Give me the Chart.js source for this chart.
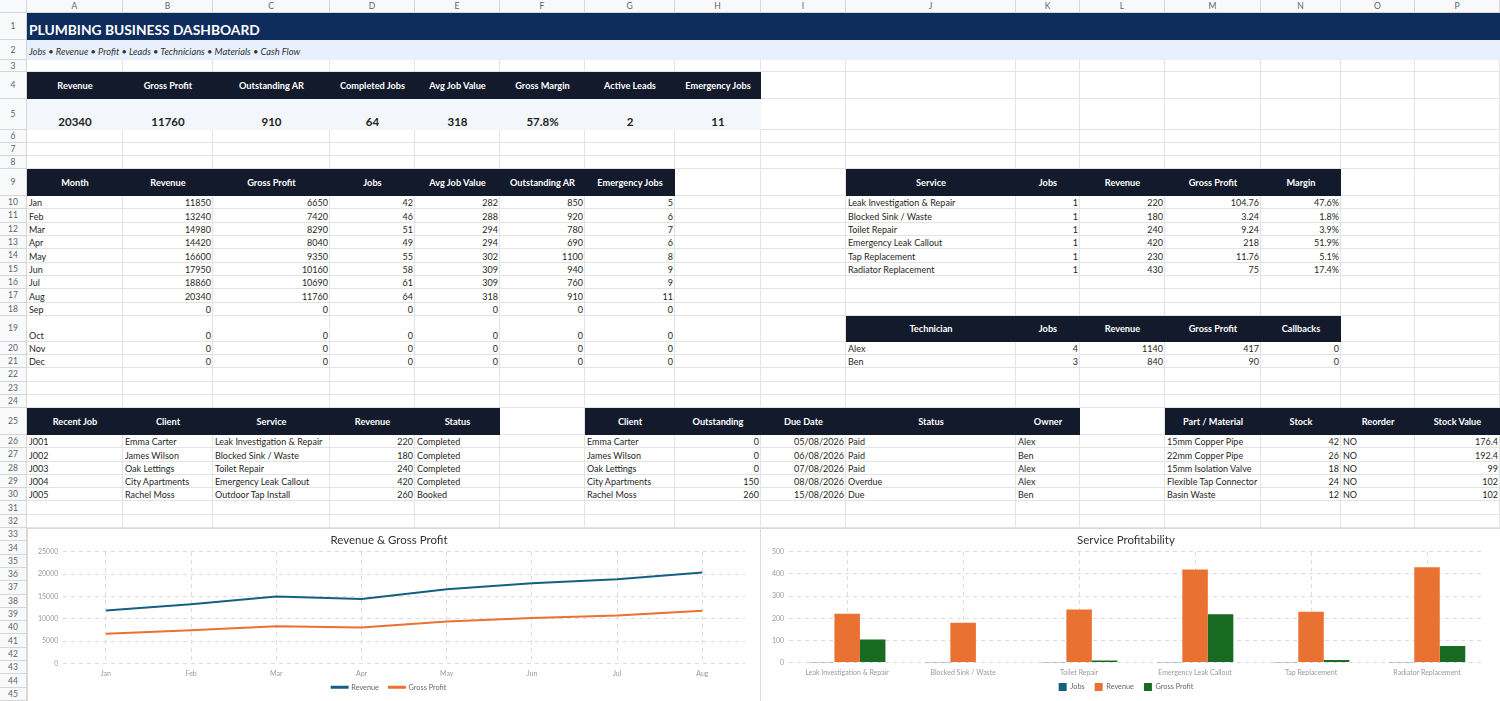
<!DOCTYPE html>
<html>
<head>
<meta charset="utf-8">
<script src="https://cdn.jsdelivr.net/npm/chart.js@4.4.1/dist/chart.umd.min.js"></script>
<style>
  html, body { margin: 0; padding: 0; background: #fff; overflow: hidden; }
  #sheet { position: relative; width: 1500px; height: 701px; font-family: Lato, sans-serif; color: #1f1f1f; overflow: hidden; }
  .c { position: absolute; box-sizing: border-box; border-right: 1px solid #e3e3e3; border-bottom: 1px solid #e3e3e3; }
  .hdr { position: absolute; box-sizing: border-box; background: #f8f9fa; color: #5f6368; font-size: 8.5px;
         display: flex; align-items: center; justify-content: center; border-right: 1px solid #d6d6d6; border-bottom: 1px solid #d6d6d6; }
  .t { position: absolute; box-sizing: border-box; display: flex; align-items: flex-end; padding: 0 2px 1px 2px;
       font-size: 9px; white-space: nowrap; overflow: hidden; }
  .r { justify-content: flex-end; }
  .hd { background: #121a2c; color: #fff; font-weight: bold; font-size: 9.2px; justify-content: center; align-items: center; padding: 0; }
  .kv { background: #f3f6fa; font-weight: bold; font-size: 11.5px; justify-content: center; padding-bottom: 2px; }
  .ttl { background: #0e2c5c; color: #fff; font-weight: bold; font-size: 13.8px; padding-bottom: 2px; }
  .sub { background: #e8f0fd; font-style: italic; font-size: 9.3px; color: #333; padding-bottom: 3px; }
  .box { position: absolute; box-sizing: border-box; background: #fff; border: 1px solid #dadada; }
</style>
</head>
<body>
<div id="sheet">
  <div class="box" style="left:27px;top:528px;width:734px;height:174px;"><canvas id="lineChart"></canvas></div>
  <div class="box" style="left:760px;top:528px;width:741px;height:174px;"><canvas id="barChart"></canvas></div>
</div>
<script>
// ---- data ----
const kpiLabels = ['Revenue', 'Gross Profit', 'Outstanding AR', 'Completed Jobs', 'Avg Job Value', 'Gross Margin', 'Active Leads', 'Emergency Jobs'];
const kpiValues = ['20340', '11760', '910', '64', '318', '57.8%', '2', '11'];

const months = ['Jan', 'Feb', 'Mar', 'Apr', 'May', 'Jun', 'Jul', 'Aug', 'Sep', 'Oct', 'Nov', 'Dec'];
const monthRevenue = [11850, 13240, 14980, 14420, 16600, 17950, 18860, 20340, 0, 0, 0, 0];
const monthGrossProfit = [6650, 7420, 8290, 8040, 9350, 10160, 10690, 11760, 0, 0, 0, 0];
const monthJobs = [42, 46, 51, 49, 55, 58, 61, 64, 0, 0, 0, 0];
const monthAvgJob = [282, 288, 294, 294, 302, 309, 309, 318, 0, 0, 0, 0];
const monthAR = [850, 920, 780, 690, 1100, 940, 760, 910, 0, 0, 0, 0];
const monthEmergency = [5, 6, 7, 6, 8, 9, 9, 11, 0, 0, 0, 0];

const services = ['Leak Investigation & Repair', 'Blocked Sink / Waste', 'Toilet Repair', 'Emergency Leak Callout', 'Tap Replacement', 'Radiator Replacement'];
const serviceJobs = [1, 1, 1, 1, 1, 1];
const serviceRevenue = [220, 180, 240, 420, 230, 430];
const serviceGrossProfit = [104.76, 3.24, 9.24, 218, 11.76, 75];
const serviceMargin = ['47.6%', '1.8%', '3.9%', '51.9%', '5.1%', '17.4%'];

const technicians = ['Alex', 'Ben'];
const techJobs = [4, 3];
const techRevenue = [1140, 840];
const techGrossProfit = [417, 90];
const techCallbacks = [0, 0];

const jobIds = ['J001', 'J002', 'J003', 'J004', 'J005'];
const jobClients = ['Emma Carter', 'James Wilson', 'Oak Lettings', 'City Apartments', 'Rachel Moss'];
const jobServices = ['Leak Investigation & Repair', 'Blocked Sink / Waste', 'Toilet Repair', 'Emergency Leak Callout', 'Outdoor Tap Install'];
const jobRevenue = [220, 180, 240, 420, 260];
const jobStatus = ['Completed', 'Completed', 'Completed', 'Completed', 'Booked'];

const arClients = ['Emma Carter', 'James Wilson', 'Oak Lettings', 'City Apartments', 'Rachel Moss'];
const arOutstanding = [0, 0, 0, 150, 260];
const arDueDates = ['05/08/2026', '06/08/2026', '07/08/2026', '08/08/2026', '15/08/2026'];
const arStatus = ['Paid', 'Paid', 'Paid', 'Overdue', 'Due'];
const arOwner = ['Alex', 'Ben', 'Alex', 'Alex', 'Ben'];

const parts = ['15mm Copper Pipe', '22mm Copper Pipe', '15mm Isolation Valve', 'Flexible Tap Connector', 'Basin Waste'];
const partStock = [42, 26, 18, 24, 12];
const partReorder = ['NO', 'NO', 'NO', 'NO', 'NO'];
const partValue = ['176.4', '192.4', '99', '102', '102'];

const chartMonths = months.slice(0, 8);

// ---- sheet layout ----
const sheet = document.getElementById('sheet');
const colX = [27, 123, 213, 330, 415, 500, 585, 675, 761, 846, 1016, 1080, 1165, 1261, 1341, 1415, 1500];
const letters = 'ABCDEFGHIJKLMNOP'.split('');
const rowH = [0, 27, 20, 12, 27, 31, 13, 13, 13, 27];
for (let i = 10; i <= 18; i++) rowH[i] = 13.33;
rowH[19] = 26;
for (let i = 20; i <= 24; i++) rowH[i] = 13.2;
rowH[25] = 27;
for (let i = 26; i <= 45; i++) rowH[i] = 13.3;
const rowY = [0, 13];
for (let i = 2; i <= 46; i++) rowY[i] = rowY[i - 1] + rowH[i - 1];

function div(cls, l, t, w, h, text) {
  const d = document.createElement('div');
  d.className = cls;
  d.style.left = l + 'px'; d.style.top = t + 'px';
  d.style.width = w + 'px'; d.style.height = h + 'px';
  if (text !== undefined) d.textContent = text;
  sheet.insertBefore(d, sheet.firstChild);
  return d;
}

function cell(r, c1, c2, text, cls) {
  return div('t ' + (cls || ''), colX[c1], rowY[r], colX[c2 + 1] - colX[c1], rowH[r], text);
}

const content = [];
function put(r, c, text, cls) { content.push([r, c, c, text, cls]); }
function span(r, c1, c2, text, cls) { content.push([r, c1, c2, text, cls]); }

span(1, 0, 15, 'PLUMBING BUSINESS DASHBOARD', 'ttl');
span(2, 0, 15, 'Jobs \u2022 Revenue \u2022 Profit \u2022 Leads \u2022 Technicians \u2022 Materials \u2022 Cash Flow', 'sub');
kpiLabels.forEach((k, i) => { put(4, i, k, 'hd'); put(5, i, kpiValues[i], 'kv'); });

['Month', 'Revenue', 'Gross Profit', 'Jobs', 'Avg Job Value', 'Outstanding AR', 'Emergency Jobs'].forEach((h, i) => put(9, i, h, 'hd'));
months.forEach((m, i) => {
  const r = 10 + i;
  put(r, 0, m, '');
  [monthRevenue, monthGrossProfit, monthJobs, monthAvgJob, monthAR, monthEmergency].forEach((arr, j) => put(r, j + 1, String(arr[i]), 'r'));
});

['Service', 'Jobs', 'Revenue', 'Gross Profit', 'Margin'].forEach((h, i) => put(9, 9 + i, h, 'hd'));
services.forEach((s, i) => {
  const r = 10 + i;
  put(r, 9, s, '');
  put(r, 10, String(serviceJobs[i]), 'r');
  put(r, 11, String(serviceRevenue[i]), 'r');
  put(r, 12, String(serviceGrossProfit[i]), 'r');
  put(r, 13, serviceMargin[i], 'r');
});

['Technician', 'Jobs', 'Revenue', 'Gross Profit', 'Callbacks'].forEach((h, i) => put(19, 9 + i, h, 'hd'));
technicians.forEach((t, i) => {
  const r = 20 + i;
  put(r, 9, t, '');
  put(r, 10, String(techJobs[i]), 'r');
  put(r, 11, String(techRevenue[i]), 'r');
  put(r, 12, String(techGrossProfit[i]), 'r');
  put(r, 13, String(techCallbacks[i]), 'r');
});

['Recent Job', 'Client', 'Service', 'Revenue', 'Status'].forEach((h, i) => put(25, i, h, 'hd'));
['Client', 'Outstanding', 'Due Date', 'Status', 'Owner'].forEach((h, i) => put(25, 6 + i, h, 'hd'));
['Part / Material', 'Stock', 'Reorder', 'Stock Value'].forEach((h, i) => put(25, 12 + i, h, 'hd'));
for (let i = 0; i < 5; i++) {
  const r = 26 + i;
  put(r, 0, jobIds[i], ''); put(r, 1, jobClients[i], ''); put(r, 2, jobServices[i], '');
  put(r, 3, String(jobRevenue[i]), 'r'); put(r, 4, jobStatus[i], '');
  put(r, 6, arClients[i], ''); put(r, 7, String(arOutstanding[i]), 'r'); put(r, 8, arDueDates[i], 'r');
  put(r, 9, arStatus[i], ''); put(r, 10, arOwner[i], '');
  put(r, 12, parts[i], ''); put(r, 13, String(partStock[i]), 'r'); put(r, 14, partReorder[i], ''); put(r, 15, partValue[i], 'r');
}

content.slice().reverse().forEach(a => cell(a[0], a[1], a[2], a[3], a[4]));
for (let r = 1; r <= 45; r++) {
  for (let c = 0; c < 16; c++) div('c', colX[c], rowY[r], colX[c + 1] - colX[c], rowH[r]);
}
for (let r = 1; r <= 45; r++) div('hdr', 0, rowY[r], 27, rowH[r], String(r));
letters.forEach((L, c) => div('hdr', colX[c], 0, colX[c + 1] - colX[c], 13, L));
div('hdr', 0, 0, 27, 13, '');
document.querySelectorAll('.t').forEach(e => e.style.zIndex = 2);
document.querySelectorAll('.box').forEach(e => e.style.zIndex = 5);

// ---- charts ----
Chart.defaults.font.family = 'Lato, sans-serif';
Chart.defaults.animation = false;

// legend takes less vertical room than Chart.js gives it by default
const tightLegend = {
  id: 'tightLegend',
  beforeLayout(chart, args, opts) {
    const lg = chart.legend;
    if (!lg || lg._tight) return;
    lg._tight = true;
    const cut = opts.cut || 0;
    const fit = lg.fit;
    lg.fit = function () { fit.call(this); this.height -= cut; };
    const draw = lg.draw;
    lg.draw = function () { this.top -= cut; draw.call(this); this.top += cut; };
  }
};

const gridOpts = { color: '#dcdcdc', drawTicks: false };
const borderOpts = { display: false, dash: [4, 4] };
const tickFont = { size: 7 };
const plainTick = v => String(v);

new Chart(document.getElementById('lineChart'), {
  type: 'line',
  plugins: [tightLegend],
  data: {
    labels: chartMonths,
    datasets: [{
      label: 'Revenue',
      data: monthRevenue.slice(0, 8),
      borderColor: '#156082',
      backgroundColor: '#156082',
      borderWidth: 2,
      pointRadius: 0,
      tension: 0
    }, {
      label: 'Gross Profit',
      data: monthGrossProfit.slice(0, 8),
      borderColor: '#E97132',
      backgroundColor: '#E97132',
      borderWidth: 2,
      pointRadius: 0,
      tension: 0
    }]
  },
  options: {
    responsive: true,
    maintainAspectRatio: false,
    layout: { padding: { left: 5, right: 15, top: 0, bottom: 0 } },
    plugins: {
      title: { display: true, text: 'Revenue & Gross Profit', color: '#333', font: { size: 11.5, weight: 'normal' }, padding: { top: 4, bottom: 5 } },
      legend: { position: 'bottom', labels: { boxWidth: 16, boxHeight: 1, padding: 10, font: { size: 7.3 }, color: '#666' } },
      tightLegend: { cut: 10 },
      tooltip: { enabled: false }
    },
    scales: {
      x: { offset: true, grid: gridOpts, border: borderOpts, ticks: { font: tickFont, color: '#999', padding: 6 } },
      y: { min: 0, max: 25000, grid: gridOpts, border: borderOpts, ticks: { stepSize: 5000, font: tickFont, color: '#999', padding: 5, callback: plainTick } }
    }
  }
});

new Chart(document.getElementById('barChart'), {
  type: 'bar',
  plugins: [tightLegend],
  data: {
    labels: services,
    datasets: [{
      label: 'Jobs', data: serviceJobs, backgroundColor: '#156082'
    }, {
      label: 'Revenue', data: serviceRevenue, backgroundColor: '#E97132'
    }, {
      label: 'Gross Profit', data: serviceGrossProfit, backgroundColor: '#196B24'
    }]
  },
  options: {
    responsive: true,
    maintainAspectRatio: false,
    categoryPercentage: 0.66,
    barPercentage: 1.0,
    layout: { padding: { left: 6, right: 15, top: 0, bottom: 0 } },
    plugins: {
      title: { display: true, text: 'Service Profitability', color: '#333', font: { size: 11.5, weight: 'normal' }, padding: { top: 4, bottom: 5 } },
      legend: { position: 'bottom', labels: { boxWidth: 8, boxHeight: 8, padding: 10, font: { size: 7.3 }, color: '#666' } },
      tightLegend: { cut: 10 },
      tooltip: { enabled: false }
    },
    scales: {
      x: { grid: { color: '#dcdcdc', drawTicks: false, offset: false }, border: borderOpts, ticks: { font: tickFont, color: '#999', padding: 6 } },
      y: { min: 0, max: 500, grid: gridOpts, border: borderOpts, ticks: { stepSize: 100, font: tickFont, color: '#999', padding: 5, callback: plainTick } }
    }
  }
});
</script>
</body>
</html>
